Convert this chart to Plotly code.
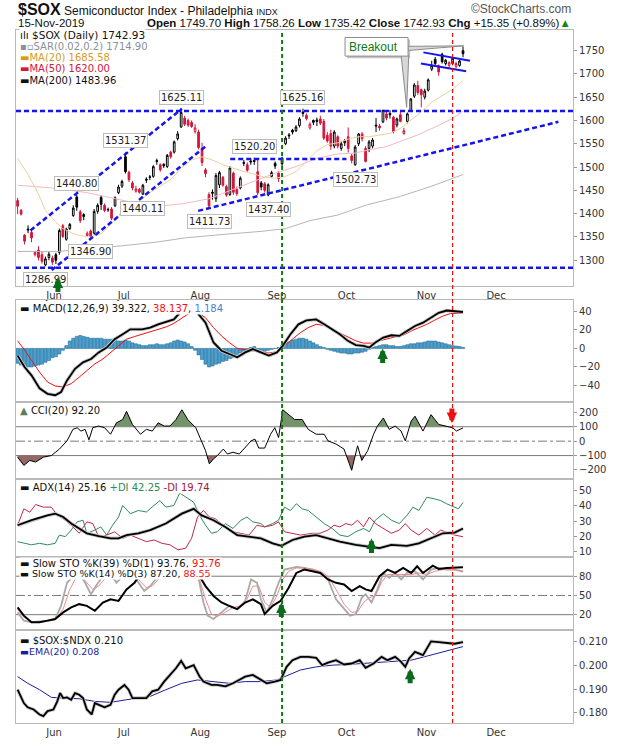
import numpy as np
import pandas as pd
import plotly.graph_objects as go

# trading days from 16 May 2019 (weekends and exchange holidays skipped)
holidays = pd.to_datetime(['2019-05-27', '2019-07-04', '2019-09-02', '2019-11-28',
                           '2019-12-25', '2020-01-01'])
days = pd.bdate_range('2019-05-16', '2020-01-03')
days = days[~days.isin(holidays)]

# daily candles
opens = [1428, 1407, 1354, 1367, 1360, 1312, 1322, 1312, 1290, 1306,
         1305, 1312, 1317, 1374, 1345, 1368, 1396, 1436, 1404, 1398,
         1353, 1363, 1358, 1405, 1435, 1418, 1408, 1410, 1417, 1445,
         1459, 1522, 1489, 1466, 1448, 1452, 1442, 1474, 1479, 1480,
         1514, 1505, 1506, 1501, 1532, 1532, 1561, 1586, 1605, 1600,
         1596, 1576, 1575, 1540, 1494, 1441, 1446, 1432, 1462, 1478,
         1458, 1441, 1487, 1452, 1455, 1510, 1505, 1513, 1514, 1490,
         1466, 1464, 1440, 1480, 1508, 1487, 1519, 1550, 1569, 1579,
         1578, 1589, 1618, 1611, 1584, 1600, 1601, 1603, 1598, 1568,
         1572, 1545, 1565, 1540, 1552, 1565, 1524, 1505, 1550, 1571,
         1540, 1540, 1545, 1590, 1588, 1597, 1614, 1615, 1607, 1590,
         1612, 1572, 1598, 1621, 1652, 1675, 1666, 1650, 1665, 1710,
         1731, 1717, 1742, 1722, 1718, 1722, 1716, 1718, 1749.70]
highs = [1434, 1410, 1356, 1375, 1366, 1320, 1330, 1318, 1308, 1318,
         1310, 1316, 1368, 1378, 1370, 1380, 1418, 1440.80, 1408, 1401,
         1362, 1366, 1410, 1422, 1440, 1422, 1413, 1414, 1437, 1462,
         1473, 1531.37, 1492, 1470, 1460, 1455, 1464, 1478, 1483, 1504,
         1518, 1508, 1508, 1528, 1535, 1557, 1577, 1625.11, 1610, 1604,
         1600, 1592, 1580, 1552, 1498, 1446, 1452, 1487, 1492, 1481,
         1462, 1502, 1490, 1458, 1480, 1515, 1510, 1517, 1520.20, 1515,
         1470, 1468, 1465, 1492, 1512, 1491, 1522, 1566, 1573, 1582,
         1590, 1607, 1625.16, 1615, 1596, 1602, 1606, 1610, 1603, 1575,
         1580, 1579, 1568, 1556, 1560, 1585, 1528, 1547, 1573, 1575,
         1545, 1558, 1562, 1605, 1592, 1620, 1618, 1622, 1610, 1606,
         1618, 1584, 1617, 1648, 1680, 1685, 1668, 1668, 1690, 1728,
         1736, 1720, 1745, 1732, 1727, 1736, 1726, 1730, 1758.26]
lows = [1399, 1396, 1334, 1358, 1339, 1308, 1300, 1293, 1286.99, 1300,
        1290, 1292, 1312, 1348, 1342, 1365, 1393, 1406, 1380, 1386,
        1350, 1346.90, 1355, 1400, 1408, 1403, 1404, 1386, 1414, 1442,
        1455, 1486, 1468, 1450, 1445, 1443, 1440.11, 1466, 1472, 1477,
        1505, 1490, 1498, 1498, 1518, 1529, 1557, 1584, 1588, 1586,
        1584, 1572, 1538, 1502, 1478, 1411.73, 1430, 1425, 1455, 1458,
        1436, 1438, 1440, 1438, 1452, 1502, 1490, 1505, 1505, 1440,
        1450, 1445, 1437.40, 1478, 1496, 1468, 1500, 1547, 1560, 1570,
        1575, 1585, 1608, 1600, 1580, 1590, 1588, 1590, 1558, 1552,
        1537, 1540, 1540, 1535, 1545, 1531, 1508, 1502.73, 1545, 1555,
        1510, 1532, 1540, 1575, 1578, 1594, 1600, 1604, 1572, 1585,
        1596, 1569, 1594, 1618, 1648, 1655, 1628, 1645, 1662, 1706,
        1718, 1696, 1722, 1718, 1712, 1718, 1712, 1715, 1735.42]
closes = [1416, 1399, 1341, 1365, 1348, 1317, 1306, 1298, 1303, 1313,
          1296, 1300, 1364, 1351, 1367, 1377, 1412, 1414, 1385, 1394,
          1358, 1350, 1405, 1418, 1420, 1407, 1409, 1390, 1434, 1457,
          1469, 1490, 1473, 1455, 1453, 1446, 1461, 1472, 1478, 1501,
          1512, 1494, 1503, 1525, 1522, 1554, 1571, 1617, 1592, 1590,
          1587, 1584, 1542, 1510, 1486, 1417, 1444, 1482, 1488, 1461,
          1440, 1498, 1446, 1443, 1476, 1508, 1493, 1511, 1512, 1445,
          1457, 1450, 1462, 1488, 1502, 1475, 1507, 1562, 1567, 1575,
          1586, 1603, 1615, 1604, 1592, 1596, 1598, 1594, 1562, 1556,
          1545, 1575, 1545, 1550, 1556, 1540, 1514, 1543, 1571, 1561,
          1512, 1554, 1558, 1588, 1584, 1622, 1605, 1612, 1576, 1603,
          1598, 1578, 1614, 1646, 1676, 1660, 1655, 1663, 1687, 1718,
          1722, 1704, 1726, 1729, 1724, 1733, 1722, 1727.58, 1742.93]

# moving averages (read at intervals along each curve)
ma20_x = [0, 3, 6, 8, 11, 13, 16, 18, 21, 24, 27, 30, 32, 35, 38, 41, 44, 47, 50, 53, 56, 59, 62,
          65, 68, 71, 74, 77, 80, 83, 86, 89, 92, 95, 98, 101, 104, 107, 110, 113, 116, 119, 122, 125, 128]
ma20_y = [1519, 1484, 1442, 1407, 1382, 1368, 1357, 1353, 1350, 1357, 1378, 1403, 1413, 1427, 1445,
          1459, 1473, 1498, 1515, 1522, 1515, 1505, 1498, 1490, 1485, 1478, 1476, 1480, 1490, 1512,
          1535, 1548, 1552, 1560, 1565, 1565, 1568, 1572, 1583, 1600, 1618, 1639, 1653, 1667, 1685.58]
ma50_x = [0, 10, 20, 28, 35, 42, 48, 55, 62, 68, 74, 80, 86, 92, 97, 101, 106, 110, 115, 120, 125, 128]
ma50_y = [1461, 1455, 1445, 1433, 1421, 1417, 1422, 1432, 1452, 1469, 1487, 1501, 1519, 1528, 1530,
          1537, 1544, 1555, 1569, 1586, 1604, 1620.00]
ma200_x = [0, 12, 20, 30, 40, 48, 60, 70, 77, 84, 92, 100, 110, 119, 128]
ma200_y = [1319, 1319, 1325, 1331, 1339, 1348, 1356, 1362, 1368, 1385, 1397, 1418, 1437, 1459, 1483.96]

# MACD(12,26,9)
macd_x = [0, 2, 4, 6.3, 8.6, 10.8, 12.5, 14.2, 16.5, 18.8, 21.1, 23.3, 25.6, 27.9, 30.2, 32.4, 35.8,
          38.1, 40.4, 42.6, 44.9, 46.6, 48.5, 50, 51.7, 54, 56.3, 58.6, 60.8, 63.1, 65.4, 67.6, 69.9,
          72.2, 74.5, 76.2, 78.4, 80.7, 83, 85.8, 88.1, 90.4, 92.6, 94.9, 97.2, 99.4, 101.1, 102.8,
          105.1, 107.4, 109.7, 111.9, 114.2, 116.5, 118.8, 121, 123.3, 125.6, 128]
macd_y = [-7.8, -20, -29, -43, -49, -50.5, -47, -34.5, -22, -15, -11.4, -4.3, 1, 10, 15.3, 20.6, 20.6,
          22.4, 26, 28.5, 31.3, 38.4, 44, 43, 38.4, 27.8, 6.4, -2.5, -6, -9.6, -4.3, -0.7, -4.3,
          -7.8, -4.3, 2.8, 15.3, 26, 30.2, 31.3, 26, 20.6, 15.3, 8.2, 3.6, 2.8, 1, 6.4,
          11.7, 14.2, 13.5, 18.9, 24.2, 27.8, 33.1, 38.4, 40.9, 40.2, 39.322]
signal_x = [0, 1.8, 4, 6.3, 8.6, 10.8, 13.1, 15.4, 17.7, 19.9, 22.2, 24.5, 26.7, 29, 31.3, 33.6,
            35.8, 38.1, 40.4, 42.6, 44.9, 47.2, 49.5, 51.7, 54, 56.3, 58.6, 60.8, 63.1, 65.4, 67.6,
            69.9, 72.2, 74.5, 76.7, 79, 81.3, 83.5, 85.8, 88.1, 90.4, 92.6, 94.9, 97.2, 99.4, 101.7,
            104, 106.3, 108.5, 110.8, 113.1, 115.3, 117.6, 119.9, 122.2, 124.4, 128]
signal_y = [8.2, -0.7, -13, -25.6, -36.3, -40.6, -41.6, -38, -31, -23.8, -16.7, -11.4, -4.3, 2.8,
            10, 12.8, 15.3, 17.8, 20.6, 23.1, 27, 33.1, 38.4, 39.1, 33.1, 22.4, 13.5, 6.4, 0, -1.4,
            -2.5, -3.6, -5, -3.6, 2.8, 10, 17.1, 22.4, 26, 24.9, 20.6, 16.4, 11.7, 8.2, 5.7, 5.7,
            8.2, 10.7, 12.5, 14.2, 18.9, 22.4, 26, 30.6, 34.9, 37.7, 38.137]
hist = [-16, -18, -19, -20, -20, -19, -18, -17, -15, -13, -10, -9, -6, -2, 3, 8, 11, 13, 14, 13,
        12, 11, 11, 11, 11, 10, 10, 10, 9, 8, 8, 9, 8, 6, 5, 4, 3, 3, 4, 4,
        5, 4, 4, 5, 6, 8, 9, 8, 7, 5, 2, -2, -7, -12, -17, -20, -19, -17, -16, -14,
        -13, -11, -10, -8, -5, -3, -1, 1, 2, -1, -2, -3, -2, -1, 0, 1, 3, 5, 7, 9,
        10, 11, 11, 10, 8, 6, 4, 2, 1, -1, -2, -3, -4, -5, -5, -6, -6, -5, -5, -4,
        -3, -1, 1, 2, 3, 4, 4, 3, 3, 2, 2, 3, 4, 5, 5, 6, 6, 7, 8, 8,
        8, 7, 6, 5, 4, 3, 2.5, 2, 1.184]

# CCI(20)
cci_x = [0, 1.8, 3.5, 5.2, 7.4, 9.7, 12, 14.2, 15.9, 17.1, 18.2, 19.4, 20.5, 21.6, 23.3, 25, 26.7,
         28.4, 30.2, 31.3, 33, 35.3, 37, 38.7, 40.4, 42.1, 43.8, 45.5, 47.2, 48.9, 51.2, 52.9, 54,
         55.1, 56.3, 57.4, 59.1, 60.3, 61.9, 63.7, 65.4, 67.1, 68.2, 69.3, 71, 72.7, 73.9, 75, 76.2,
         77.9, 79.6, 81.8, 83.5, 85.8, 88.1, 89.2, 91.5, 93.8, 96, 97.7, 98.9, 100.6, 102.3, 103.4,
         105.1, 106.8, 108.5, 110.2, 111.4, 113.1, 114.2, 116.5, 118.8, 121, 123.3, 125, 126.1, 128]
cci_y = [-111, -168, -134, -145, -111, -100, -55, 2, 82, 93, 70, 82, 9, 93, 105, 93, 48,
         127, 150, 207, 116, 48, 82, 70, 127, 105, 105, 150, 218, 150, 93, 2, -66,
         -157, -123, -100, -55, -89, -77, -89, -43, 2, 14, -48, -48, 48, 93, 25, 218,
         184, 150, 150, 82, 48, 48, 2, -20, -55, -202, -32, -134, -66, 48, 105,
         161, 82, 105, 70, 2, 139, 173, 70, 184, 116, 105, 93, 70, 92.20]

# ADX(14) with +DI / -DI
adx_x = [0, 4, 8.6, 10.8, 13.1, 15.4, 17.7, 19.9, 23.3, 26.7, 29, 31.3, 34.7, 38.1, 42.6, 47.2, 50.6,
         52.9, 56.3, 59.7, 63.1, 66.5, 69.9, 73.3, 75.8, 79, 82.4, 85.8, 89.2, 92.6, 97.2, 100.6,
         104, 107.4, 111.9, 115.3, 118.8, 122.2, 125.6, 128]
adx_y = [27.3, 30.6, 33.8, 34.9, 32.7, 28.4, 25.2, 22, 20.2, 18.7, 18.7, 20.8, 22, 24.1, 28.4, 34.9,
         38.1, 33.8, 30.6, 26.2, 20.8, 19.8, 18.7, 15.4, 13.7, 17.6, 19.8, 20.8, 18.7, 16.5, 14.4,
         13.3, 12.2, 14.4, 13.7, 15.4, 18.7, 22, 22.4, 25.16]
pdi_x = [0, 1.8, 4, 6.3, 8.6, 10.8, 12, 13.7, 15.4, 17.1, 18.8, 19.9, 22.2, 23.9, 25.6, 27.3, 29,
         30.2, 32.4, 34.7, 37, 39.2, 40.9, 42.6, 44.9, 46.6, 48.3, 50.6, 52.3, 54, 55.7, 57.4, 59.7,
         61.9, 64.2, 65.9, 67.6, 69.9, 71, 73.3, 75, 76.7, 78.4, 80.1, 81.8, 83.5, 85.8, 88.1, 90.4,
         92.6, 94.9, 97.2, 99.4, 101.1, 102.8, 105.1, 107.4, 109.7, 111.9, 113.6, 115.3, 117.6,
         119.9, 121.6, 123.3, 125.6, 126.7, 128]
pdi_y = [16.5, 15.4, 14.4, 15.4, 14.4, 15.4, 20.8, 19.8, 24.1, 29.5, 30.6, 22, 24.1, 26.2, 20.8,
         27.3, 32.7, 40.3, 34.9, 37, 36, 40.3, 43.5, 39.2, 40.3, 48.5, 45.7, 42.4, 33.8, 27.3, 22,
         23, 28.4, 25.2, 30.6, 32.7, 29.5, 28.4, 26.2, 28.4, 30.6, 39.2, 37, 41.4, 38.1, 37, 32.7,
         28.4, 25.2, 20.8, 19.8, 23, 25.2, 23, 30.6, 34.9, 30.6, 28.4, 33.8, 39.2, 37, 45.7, 44.6,
         43.5, 41.4, 39.2, 38.1, 42.25]
mdi_x = [0, 1.8, 3.5, 5.2, 7.4, 9.7, 11.4, 13.1, 15.4, 17.7, 19.9, 21.6, 23.3, 25.6, 27.9, 30.2,
         32.4, 34.7, 37, 39.2, 41.5, 43.8, 46.1, 48.3, 50, 51.7, 53.4, 55.1, 56.8, 58.5, 60.3, 61.9,
         64.2, 66.5, 68.8, 71, 73.3, 75, 76.7, 79, 81.3, 84.7, 86.9, 89.2, 90.9, 92.6, 94.3, 96,
         97.7, 99.4, 101.1, 102.8, 105.1, 107.4, 109.7, 111.4, 113.1, 115.3, 117.6, 119.9, 121.6,
         123.9, 125.6, 128]
mdi_y = [27.3, 38.1, 35.9, 40.9, 39.2, 39.2, 33.8, 31.6, 27.3, 22, 29.5, 28.4, 19.8, 20.8, 23,
         18.7, 20.8, 18.7, 16.5, 17.6, 15.4, 14.4, 11.1, 12.2, 18.7, 32.7, 37, 32.7, 31.6, 28.4,
         25.2, 23, 22, 20.8, 27.3, 26.2, 27.3, 29.5, 23, 22, 20.8, 22, 22, 24.1, 27.3, 26.2, 28.4,
         27.3, 30.6, 26.2, 32.7, 28.4, 25.2, 22, 24.1, 28.4, 24.1, 20.8, 25.2, 20.8, 24.1, 22,
         20.8, 19.74]

# Slow stochastics: %K(39) %D(1), and %K(14) %D(3)
sto39_x = [0, 1.8, 4, 6.3, 8.6, 10.8, 13.1, 15.4, 17.7, 19.9, 22.2, 24.5, 26.7, 29, 31.3, 33.6, 36,
           40, 46, 50, 52.3, 54, 56.3, 58.6, 60.8, 63.1, 65.4, 67.6, 69.9, 71, 73.3, 75.6, 77.9,
           80.1, 82.4, 84.7, 87, 89.2, 91.5, 93.8, 96, 98.3, 100, 101.7, 104, 106.3, 108.5, 110.8,
           113.1, 114.8, 116.5, 119.3, 121, 123.3, 128]
sto39_y = [31.3, 18.5, 8.2, 8.2, 10.7, 13.3, 23.6, 31.3, 36.4, 33.8, 26.1, 39, 44, 41.5, 59.5, 69.7,
           90, 97, 99, 96, 80, 64.6, 49.2, 39, 33.8, 28.7, 39, 44, 36.4, 21, 33.8, 41.5, 62, 85.1,
           90.3, 87.7, 85.1, 74.9, 69.7, 67.2, 56.9, 64.6, 59.5, 56.9, 80, 90.3, 85.1, 92.8, 85.1,
           95.4, 85.1, 96.4, 91.3, 92.8, 93.76]
sto14_x = [0, 1.8, 4, 6.3, 8.6, 10.8, 12.5, 14.2, 15.9, 17.7, 19.4, 21.1, 22.8, 24.5, 26.7, 28.4,
           30.2, 31.9, 34.1, 36.4, 38.1, 40.4, 42.6, 44.9, 47.2, 49.5, 51.7, 53.4, 54.6, 56.3, 58.6,
           60.8, 63.1, 65.4, 67.1, 68.8, 69.9, 71.6, 73.3, 75, 76.7, 78.4, 80.1, 82.4, 84.7, 87,
           89.2, 91.5, 93.8, 95.5, 97.2, 98.9, 100, 101.7, 103.4, 105.1, 106.8, 108.5, 110.2,
           111.9, 114.2, 116.5, 118.8, 121, 123.3, 125.6, 128]
sto14_y = [23.6, 10.7, 8.2, 9.2, 10.7, 13.3, 33.8, 69.7, 80, 85, 69.7, 51.8, 67.2, 80, 85, 69.7,
           80, 90, 74.9, 56.9, 64.6, 80, 87.7, 92.8, 95.4, 94.4, 85.1, 39, 18.5, 13.3, 23.6, 33.8,
           28.7, 41.5, 74.9, 69.7, 44, 23.6, 44, 69.7, 90.3, 92.8, 94.4, 92.8, 90.3, 85.1, 74.9,
           44, 28.7, 18.5, 21, 46.7, 51.8, 39, 59.5, 85.1, 77.4, 85.1, 74.9, 85.1, 87.7, 74.9,
           90.3, 92.8, 90.3, 90.3, 87.20]
sto14d_x = [0, 1.8, 4, 6.3, 8.6, 10.8, 13.1, 14.8, 16.5, 18.2, 19.9, 21.6, 23.3, 25, 27.3, 29,
            30.7, 32.4, 34.7, 37, 38.7, 40.9, 43.2, 45.5, 47.8, 50, 52.3, 54, 55.7, 57.4, 59.7,
            61.9, 64.2, 65.9, 67.6, 69.3, 71, 72.7, 74.5, 76.2, 77.9, 80.1, 82.4, 84.7, 87, 89.2,
            91.5, 93.8, 96, 97.7, 99.4, 101.1, 102.8, 104.5, 106.3, 108.5, 110.8, 113.1, 115.3,
            117.6, 119.9, 122.2, 124.4, 128]
sto14d_y = [28.7, 15.9, 9.2, 8.2, 9.7, 11.8, 28.7, 56.9, 74.9, 80, 69.7, 59.5, 64.6, 75.9, 82.6,
            75.9, 79, 85.1, 74.9, 62, 64.6, 77.4, 86.2, 91.3, 93.9, 92.8, 74.9, 44, 21, 17.4, 23.6,
            31.3, 33.8, 44, 64.6, 64.6, 39, 31.3, 49.2, 74.9, 87.7, 92.8, 92.8, 91.3, 87.7, 80,
            59.5, 36.4, 23.6, 24.6, 39, 46.7, 49.2, 69.7, 82.6, 82.6, 82.6, 82.6, 85.1, 82.6,
            87.7, 90.3, 90.3, 88.55]

# $SOX:$NDX ratio and its EMA(20)
ratio_x = [0, 0.6, 1.8, 2.9, 4.6, 6.3, 7.4, 8.6, 10.3, 11.4, 12.2, 13.1, 14.2, 15.4, 16.5, 17.7,
           18.8, 19.9, 21.3, 22.2, 23.3, 25, 26.7, 27.9, 29, 30.7, 31.9, 33, 34.7, 37, 38.7, 40.4,
           42.1, 43.8, 45.5, 47, 48.3, 50.6, 52.3, 53.4, 55.7, 57.4, 59.7, 61.9, 63.7, 65.4, 67.6,
           69.3, 71.6, 73.9, 75.6, 77.3, 79, 81.3, 83.5, 85.8, 87.5, 89.2, 91.5, 93.8, 96, 98.3,
           100, 102.3, 104.6, 106.3, 108.5, 110.2, 111.4, 112.5, 114.2, 116.5, 118.8, 121, 123.3,
           125.6, 128]
ratio_y = [0.1897, 0.1876, 0.1841, 0.1823, 0.1814, 0.1793, 0.1786, 0.1807, 0.1814, 0.1848, 0.1883,
           0.1862, 0.1865, 0.1855, 0.1883, 0.1876, 0.1862, 0.1814, 0.1793, 0.1841, 0.1834, 0.1823,
           0.1834, 0.1876, 0.1897, 0.1917, 0.1897, 0.1862, 0.1862, 0.1862, 0.1890, 0.1897, 0.1931,
           0.1959, 0.1987, 0.2018, 0.1987, 0.2000, 0.1952, 0.1931, 0.1917, 0.1917, 0.1911, 0.1924,
           0.1938, 0.1952, 0.1959, 0.1945, 0.1924, 0.1931, 0.1938, 0.1993, 0.2021, 0.2035, 0.2035,
           0.2031, 0.2000, 0.2011, 0.2021, 0.2003, 0.2007, 0.2021, 0.1989, 0.2007, 0.2035, 0.2021,
           0.2035, 0.2014, 0.1993, 0.2028, 0.2056, 0.2042, 0.2100, 0.2097, 0.2094, 0.2090, 0.2097]
ema_x = [0, 2.9, 6.3, 9.7, 13.1, 17.7, 22.2, 26.7, 31.3, 34.7, 38.1, 42.6, 47.2, 51.7, 56.3, 60.8,
         65.4, 69.9, 74.5, 77.9, 81.3, 85.8, 90.4, 94.9, 99.4, 104, 108.5, 113.1, 117.6, 122.2, 128]
ema_y = [0.1952, 0.1924, 0.1897, 0.1865, 0.1862, 0.1859, 0.1848, 0.1844, 0.1855, 0.1862, 0.1869,
         0.1897, 0.1924, 0.1938, 0.1931, 0.1924, 0.1931, 0.1931, 0.1938, 0.1959, 0.1980, 0.1993,
         0.2000, 0.2003, 0.2007, 0.2011, 0.2014, 0.2021, 0.2038, 0.2056, 0.2078]

month_names = ['Jun', 'Jul', 'Aug', 'Sep', 'Oct', 'Nov', 'Dec']

# swing labels: (day index, 'H' for high / 'L' for low)
pivots = [(8, 'L'), (17, 'H'), (21, 'L'), (31, 'H'), (36, 'L'), (47, 'H'), (55, 'L'),
          (68, 'H'), (72, 'L'), (82, 'H'), (97, 'L')]

RED = '#d3163b'
BLUE = '#1414f0'
GREEN = '#0b6b1b'
FRAME = '#b9b9b9'
FONT = 'DejaVu Sans'

o = np.array(opens); h = np.array(highs); l = np.array(lows); c = np.array(closes)
idx = np.arange(len(c))


def py(y):
    # pixel row -> paper fraction (plot area runs from row 30 to row 732)
    return (732 - y) / 702


def px(x):
    return (x - 16) / 557


def band(xs, ys, level, above=True):
    """polygon of the part of a line beyond a level (for CCI shading)"""
    bx, by = [], []
    for i in range(len(xs)):
        if i > 0 and (ys[i - 1] - level) * (ys[i] - level) < 0:
            t = (level - ys[i - 1]) / (ys[i] - ys[i - 1])
            bx.append(xs[i - 1] + t * (xs[i] - xs[i - 1]))
            by.append(level)
        bx.append(xs[i])
        by.append(max(ys[i], level) if above else min(ys[i], level))
    return bx + [bx[-1], bx[0]], by + [level, level]


fig = go.Figure()

# price panel
fig.add_trace(go.Scatter(x=ma200_x, y=ma200_y, mode='lines', line=dict(color='#b5b5b5', width=1),
                         xaxis='x', yaxis='y'))
fig.add_trace(go.Scatter(x=ma50_x, y=ma50_y, mode='lines', line=dict(color='#f2b8c0', width=1),
                         xaxis='x', yaxis='y'))
fig.add_trace(go.Scatter(x=ma20_x, y=ma20_y, mode='lines', line=dict(color='#ecd09c', width=1),
                         xaxis='x', yaxis='y'))

prev = np.r_[np.inf, c[:-1]]
up = c >= prev
for mask, col in [(up, 'black'), (~up, RED)]:
    fig.add_trace(go.Candlestick(
        x=idx[mask], open=o[mask], high=h[mask], low=l[mask], close=c[mask],
        increasing=dict(line=dict(color=col, width=1), fillcolor='white'),
        decreasing=dict(line=dict(color=col, width=1), fillcolor=col),
        whiskerwidth=0, xaxis='x', yaxis='y'))

# MACD panel
fig.add_trace(go.Bar(x=idx, y=hist, marker=dict(color='#4b9fcf', line=dict(color='#2a6f96', width=0.6)),
                     width=0.9, xaxis='x2', yaxis='y2'))
fig.add_trace(go.Scatter(x=signal_x, y=signal_y, mode='lines', line=dict(color='#ee1111', width=1),
                         xaxis='x2', yaxis='y2'))
fig.add_trace(go.Scatter(x=macd_x, y=macd_y, mode='lines', line=dict(color='#c8c8c8', width=3.5),
                         xaxis='x2', yaxis='y2'))
fig.add_trace(go.Scatter(x=macd_x, y=macd_y, mode='lines', line=dict(color='black', width=1.8),
                         xaxis='x2', yaxis='y2'))

# CCI panel
gx, gy = band(cci_x, cci_y, 100, True)
fig.add_trace(go.Scatter(x=gx, y=gy, mode='lines', fill='toself', fillcolor='#74936b',
                         line=dict(width=0), xaxis='x3', yaxis='y3'))
bx_, by_ = band(cci_x, cci_y, -100, False)
fig.add_trace(go.Scatter(x=bx_, y=by_, mode='lines', fill='toself', fillcolor='#946866',
                         line=dict(width=0), xaxis='x3', yaxis='y3'))
fig.add_trace(go.Scatter(x=cci_x, y=cci_y, mode='lines', line=dict(color='black', width=1),
                         xaxis='x3', yaxis='y3'))

# ADX panel
fig.add_trace(go.Scatter(x=pdi_x, y=pdi_y, mode='lines', line=dict(color='#2e8b57', width=1),
                         xaxis='x4', yaxis='y4'))
fig.add_trace(go.Scatter(x=mdi_x, y=mdi_y, mode='lines', line=dict(color='#c0284a', width=1),
                         xaxis='x4', yaxis='y4'))
fig.add_trace(go.Scatter(x=adx_x, y=adx_y, mode='lines', line=dict(color='#c8c8c8', width=3.5),
                         xaxis='x4', yaxis='y4'))
fig.add_trace(go.Scatter(x=adx_x, y=adx_y, mode='lines', line=dict(color='black', width=1.8),
                         xaxis='x4', yaxis='y4'))

# stochastics panel
fig.add_trace(go.Scatter(x=sto14_x, y=sto14_y, mode='lines', line=dict(color='#a9a9a9', width=1.8),
                         xaxis='x5', yaxis='y5'))
fig.add_trace(go.Scatter(x=sto14d_x, y=sto14d_y, mode='lines', line=dict(color='#f08a8a', width=1),
                         xaxis='x5', yaxis='y5'))
fig.add_trace(go.Scatter(x=sto39_x, y=sto39_y, mode='lines', line=dict(color='black', width=2),
                         xaxis='x5', yaxis='y5'))

# ratio panel
fig.add_trace(go.Scatter(x=ema_x, y=ema_y, mode='lines', line=dict(color='#1c1c9c', width=1),
                         xaxis='x6', yaxis='y6'))
fig.add_trace(go.Scatter(x=ratio_x, y=ratio_y, mode='lines', line=dict(color='#c8c8c8', width=3.5),
                         xaxis='x6', yaxis='y6'))
fig.add_trace(go.Scatter(x=ratio_x, y=ratio_y, mode='lines', line=dict(color='black', width=1.8),
                         xaxis='x6', yaxis='y6'))

# axes
first = [days[days.month == m][0] for m in (6, 7, 8, 9, 10, 11, 12)]
month_pos = [days.get_loc(d) - 0.5 for d in first]
xr = [-0.46, 159.6]
tickfont = dict(family=FONT, size=10, color='#333')


def xax(anchor, labels):
    return dict(range=xr, anchor=anchor, showgrid=False, zeroline=False, showline=True, mirror=True,
                linecolor=FRAME, linewidth=1, tickmode='array', tickvals=month_pos, ticktext=month_names,
                showticklabels=labels, ticks='', tickfont=tickfont, fixedrange=True)


def yax(anchor, dom, rng, vals, text=None):
    d = dict(domain=dom, range=rng, anchor=anchor, side='right', showgrid=False, zeroline=False,
             showline=True, mirror=True, linecolor=FRAME, linewidth=1, tickmode='array', tickvals=vals,
             ticks='outside', ticklen=3, tickcolor='#999', tickfont=tickfont, fixedrange=True)
    if text is not None:
        d['ticktext'] = text
    return d


fig.update_layout(
    width=620, height=750, margin=dict(l=16, r=47, t=30, b=18),
    paper_bgcolor='white', plot_bgcolor='white', showlegend=False, hovermode=False,
    font=dict(family=FONT, size=10, color='#222'),
    xaxis=dict(xax('y', True), rangeslider=dict(visible=False)),
    xaxis2=xax('y2', False), xaxis3=xax('y3', False), xaxis4=xax('y4', False),
    xaxis5=xax('y5', False), xaxis6=xax('y6', True),
    yaxis=yax('x', [py(289), 1], [1245.5, 1794], list(range(1300, 1751, 50))),
    yaxis2=yax('x2', [py(407), py(303)], [-58, 52.8], [-40, -20, 0, 20, 40]),
    yaxis3=yax('x3', [py(485), py(407)], [-263.7, 270.5], [-200, -100, 0, 100, 200]),
    yaxis4=yax('x4', [py(564), py(485)], [6.3, 57.6], [10, 20, 30, 40, 50]),
    yaxis5=yax('x5', [py(638), py(564)], [-4.2, 109.7], [20, 50, 80]),
    yaxis6=yax('x6', [0, py(638)], [0.17573, 0.21468], [0.18, 0.19, 0.20, 0.21],
               ['0.180', '0.190', '0.200', '0.210']),
)

shapes = []
# reference levels in CCI and stochastics
for ax_, lv, dash in [('3', 100, 'solid'), ('3', -100, 'solid'), ('3', 0, 'dashdot'),
                      ('5', 80, 'solid'), ('5', 20, 'solid'), ('5', 50, 'dashdot')]:
    shapes.append(dict(type='line', xref='x%s domain' % ax_, yref='y' + ax_, x0=0, x1=1, y0=lv, y1=lv,
                       line=dict(color='#7a7a7a', width=1, dash=dash), layer='below'))

# trend lines drawn on the price panel
for lv in (1620, 1284):
    shapes.append(dict(type='line', xref='x domain', yref='y', x0=0, x1=1, y0=lv, y1=lv,
                       line=dict(color=BLUE, width=2.5, dash='5px,3px')))
for x0, y0, x1, y1 in [(3.7, 1364, 47.2, 1625), (9.8, 1279, 53.9, 1543.6),
                       (51.9, 1406, 155.4, 1597), (61.1, 1517, 94.5, 1517)]:
    shapes.append(dict(type='line', xref='x', yref='y', x0=x0, y0=y0, x1=x1, y1=y1,
                       line=dict(color=BLUE, width=2.5, dash='5px,3px')))
for x0, y0, x1, y1 in [(116.6, 1746, 130, 1728), (115.9, 1722, 128.9, 1705.5)]:
    shapes.append(dict(type='line', xref='x', yref='y', x0=x0, y0=y0, x1=x1, y1=y1,
                       line=dict(color=BLUE, width=2)))

# "Breakout" call-out
shapes.append(dict(type='rect', xref='x', yref='y', x0=94.7, x1=112.8, y0=1733.5, y1=1773.5,
                   fillcolor='#c4c4c4', line=dict(width=0)))
shapes.append(dict(type='path', xref='x', yref='y', path='M 112.2 1759 L 128.2 1760 L 112.2 1750 Z',
                   fillcolor='#d8d8d8', line=dict(color='#8c8c8c', width=1)))
shapes.append(dict(type='path', xref='x', yref='y', path='M 110.2 1740 L 111.8 1628 L 112.4 1740 Z',
                   fillcolor='#d8d8d8', line=dict(color='#8c8c8c', width=1)))
shapes.append(dict(type='rect', xref='x', yref='y', x0=94.1, x1=112.2, y0=1738, y1=1778,
                   fillcolor='white', line=dict(color='#8c8c8c', width=1)))

# marker lines running through all panels
shapes.append(dict(type='line', xref='x', yref='paper', x0=76, x1=76, y0=0, y1=1,
                   line=dict(color='#117a11', width=2, dash='4px,3px')))
shapes.append(dict(type='line', xref='x', yref='paper', x0=125, x1=125, y0=0, y1=1,
                   line=dict(color='#ee1111', width=1.2, dash='4px,3px')))
fig.update_layout(shapes=shapes)

ann = []
# swing values
for i, kind in pivots:
    val = h[i] if kind == 'H' else l[i]
    ann.append(dict(x=i, y=val, xref='x', yref='y', text='%.2f' % val, showarrow=False,
                    yanchor='bottom' if kind == 'H' else 'top', yshift=4 if kind == 'H' else -6,
                    bgcolor='white', bordercolor='#bdbdbd', borderwidth=1, borderpad=1,
                    font=dict(family=FONT, size=10, color='#222')))

ann.append(dict(x=94.6, y=1758, xref='x', yref='y', text='Breakout', showarrow=False, xanchor='left',
                font=dict(family='Liberation Sans', size=12, color='#117711')))

# signal arrows: (axis, x, tip value, tail offset px, colour)
for axn, xv, yv, off, col in [('', 11.6, 1263, 16, GREEN), ('2', 104.9, 0, 16, GREEN),
                              ('4', 101.7, 18.6, 16, GREEN), ('5', 75.8, 38.9, 16, GREEN),
                              ('6', 112.8, 0.1985, 16, GREEN), ('3', 124.8, 126, -16, '#ee1111')]:
    ann.append(dict(x=xv, y=yv, xref='x' + axn, yref='y' + axn, text='', showarrow=True,
                    ax=0, ay=off, arrowhead=2, arrowsize=0.42, arrowwidth=5, arrowcolor=col))


def legend(ypix, text, size=10):
    ann.append(dict(x=px(19), y=py(ypix), xref='paper', yref='paper', text=text, showarrow=False,
                    xanchor='left', yanchor='middle', bgcolor='white', borderpad=0,
                    font=dict(family=FONT, size=size, color='#111')))


legend(35.5, 'ılı $SOX (Daily) %.2f' % c[-1], 10.5)
legend(47, '<span style="color:#8a9099">▪▫SAR(0.02,0.2) 1714.90</span>')
legend(58.3, '<span style="color:#d89a1c">▬MA(20) %.2f</span>' % ma20_y[-1])
legend(69.5, '<span style="color:#d3163b">▬MA(50) %.2f</span>' % ma50_y[-1])
legend(80.8, '▬MA(200) %.2f' % ma200_y[-1])
legend(312, '▬ MACD(12,26,9) %.3f, <span style="color:#ee1111">%.3f</span>, '
            '<span style="color:#4b7fd0">%.3f</span>' % (macd_y[-1], signal_y[-1], hist[-1]))
legend(415, '<span style="color:#5c7d55">▲</span> CCI(20) %.2f' % cci_y[-1])
legend(493, '▬ ADX(14) %.2f <span style="color:#2e8b57">+DI %.2f</span> '
            '<span style="color:#a0183c">-DI %.2f</span>' % (adx_y[-1], pdi_y[-1], mdi_y[-1]))
legend(570, '▬ Slow STO %%K(39) %%D(1) %.2f, <span style="color:#ee1111">%.2f</span>'
       % (sto39_y[-1], sto39_y[-1]))
legend(580.5, '▬ Slow STO %%K(14) %%D(3) %.2f, <span style="color:#ee1111">%.2f</span>'
       % (sto14_y[-1], sto14d_y[-1]), 9.5)
legend(648.5, '▬ $SOX:$NDX %.3f' % ratio_y[-1])
legend(660, '<span style="color:#1c1c9c">▬EMA(20) %.3f</span>' % ema_y[-1], 9.5)

# header
chg = c[-1] - c[-2]
ann.append(dict(x=0, y=py(9), xref='paper', yref='paper', xanchor='left', yanchor='middle',
                showarrow=False,
                text='<b><span style="font-size:16px">$SOX</span></b> Semiconductor Index - Philadelphia '
                     '<span style="font-size:9px">INDX</span>',
                font=dict(family='Liberation Sans', size=12, color='#111')))
ann.append(dict(x=1, y=py(9), xref='paper', yref='paper', xanchor='right', yanchor='middle',
                showarrow=False, text='©StockCharts.com',
                font=dict(family='Liberation Sans', size=12, color='#555')))
ann.append(dict(x=0, y=py(23), xref='paper', yref='paper', xanchor='left', yanchor='middle',
                showarrow=False, text=days[len(c) - 1].strftime('%d-%b-%Y'),
                font=dict(family='Liberation Sans', size=11.5, color='#111')))
ann.append(dict(x=1, y=py(23), xref='paper', yref='paper', xanchor='right', yanchor='middle',
                showarrow=False,
                text='<b>Open</b> %.2f <b>High</b> %.2f <b>Low</b> %.2f <b>Close</b> %.2f '
                     '<b>Chg</b> %+.2f (%+.2f%%)<span style="color:#118811">▲</span>'
                     % (o[-1], h[-1], l[-1], c[-1], chg, chg / c[-2] * 100),
                font=dict(family='Liberation Sans', size=11.5, color='#111')))

fig.update_layout(annotations=ann)

# the page's default 8px body margin would push the figure off the window
fig.write_html("out.html", config={'displayModeBar': False},
               post_script="document.body.style.margin='0px';")
